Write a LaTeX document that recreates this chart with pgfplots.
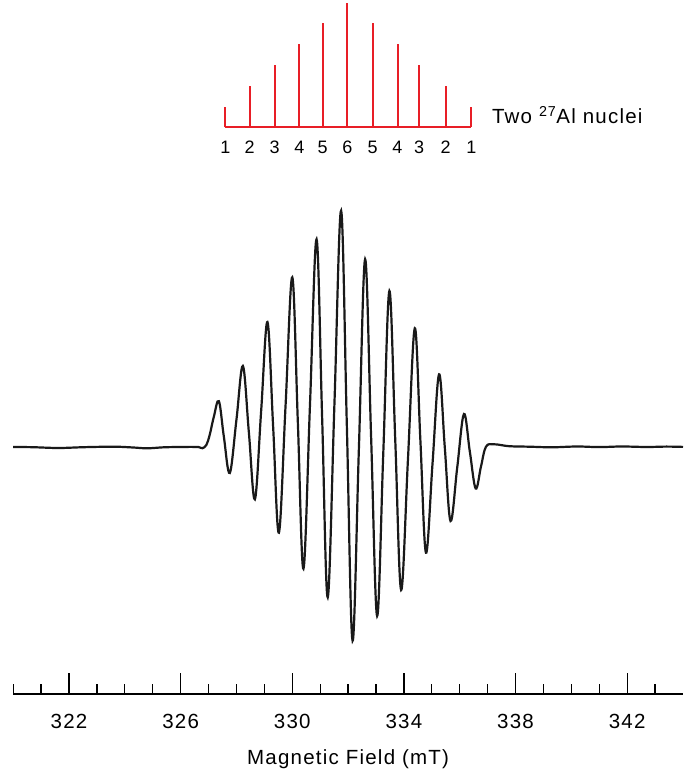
\documentclass[border=0pt]{standalone}
\usepackage{fontspec}
\setmainfont{Liberation Sans}[LetterSpace=6]
\usepackage{pgfplots}
\pgfplotsset{compat=1.18}
\definecolor{stickred}{RGB}{232,30,38}

\begin{document}
\begin{tikzpicture}
\begin{axis}[
    name=main,
    scale only axis,
    width=669.8pt, height=694pt,
    xmin=320, xmax=344,
    ymin=-247.3, ymax=446.7,
    axis x line*=bottom,
    axis y line=none,
    clip=false,
    xtick={322,326,...,342},
    minor xtick={320,321,...,343},
    tick align=inside,
    major tick length=21pt,
    minor tick length=10pt,
    every tick/.style={black, line width=1.3pt},
    x axis line style={line width=2pt},
    /pgf/number format/assume math mode=true,
    xticklabel style={anchor=base, yshift=-34.3pt, font=\fontsize{20.5}{24}\selectfont},
    xlabel={Magnetic Field (mT)},
    xlabel style={at={(axis description cs:0.5,0)}, anchor=base, yshift=-70.3pt, font=\fontsize{20.5}{24}\selectfont},
]
% EPR spectrum, y in arbitrary units (baseline = 0)
\addplot[black!90, line width=2.2pt, smooth, tension=0.6] coordinates {
    (320.00,-0.3) (320.70,-0.5) (321.60,-1.3) (322.40,-0.6) (322.80,-0.3)
    (323.65,0.0) (324.30,-0.8) (324.80,-1.6) (325.40,-0.6) (325.97,-0.3)
    (326.40,-0.2) (326.65,-0.4) (326.78,-1.5) (326.92,1.7) (327.04,11.7)
    (327.19,30.0) (327.37,45.5) (327.55,9.6) (327.76,-26.3)
    (328.00,27.2) (328.23,80.7) (328.445,14.05) (328.66,-52.6)
    (328.885,36.05) (329.11,124.7) (329.315,19.35) (329.52,-86)
    (329.76,41.7) (330.00,169.4) (330.20,23.7) (330.40,-122)
    (330.635,42.7) (330.87,207.4) (331.07,28.4) (331.27,-150.6)
    (331.51,42.7) (331.75,236) (331.955,21) (332.16,-194)
    (332.385,-3.3) (332.61,187.4) (332.825,9.05) (333.04,-169.3)
    (333.26,-6.8) (333.48,155.7) (333.69,6.2) (333.90,-143.3)
    (334.145,-12.45) (334.39,118.4) (334.59,6.2) (334.79,-106)
    (335.025,-16.8) (335.26,72.4) (335.465,-0.95) (335.67,-74.3)
    (335.91,-20.8) (336.15,32.7) (336.36,-4.55) (336.57,-41.8)
    (336.76,-20) (336.94,0) (337.24,2.4) (337.77,0.5) (338.5,0)
    (339.3,-0.6) (340.2,0.2) (341.0,-0.4) (341.8,0.2) (342.7,-0.3)
    (343.4,0.1) (344.0,-0.2)
};
\coordinate (sb) at (axis cs:327.60,319.4);
\end{axis}

% stick diagram: two 27Al nuclei, intensities 1:2:3:4:5:6:5:4:3:2:1
\begin{axis}[
    at={(sb)}, anchor=south west,
    scale only axis,
    width=246pt, height=124.6pt,
    xmin=327.60, xmax=336.40,
    ymin=0, ymax=6,
    axis x line*=bottom,
    axis y line=none,
    clip=false,
    x axis line style={stickred, line width=2pt},
    xtick={327.60,328.47,329.36,330.25,331.08,331.97,332.87,333.76,334.53,335.48,336.40},
    xticklabels={1,2,3,4,5,6,5,4,3,2,1},
    major tick length=0pt,
    xticklabel style={anchor=base, yshift=-26pt, font=\fontsize{18}{21}\selectfont},
]
\addplot[ycomb, stickred, line width=2pt] coordinates {
    (327.60,1) (328.47,2) (329.36,3) (330.25,4) (331.08,5) (331.97,6)
    (332.87,5) (333.76,4) (334.53,3) (335.48,2) (336.40,1)
};
\node[anchor=base west, inner sep=0pt, xshift=20.6pt, yshift=3.3pt,
      font=\fontsize{20.5}{24}\selectfont] at (axis cs:336.40,0)
      {Two \textsuperscript{27}Al nuclei};
\end{axis}

\pgfresetboundingbox
\path[use as bounding box] (main.south west) ++(-13.2pt,-79pt) rectangle ++(683pt,773pt);
\end{tikzpicture}
\end{document}
